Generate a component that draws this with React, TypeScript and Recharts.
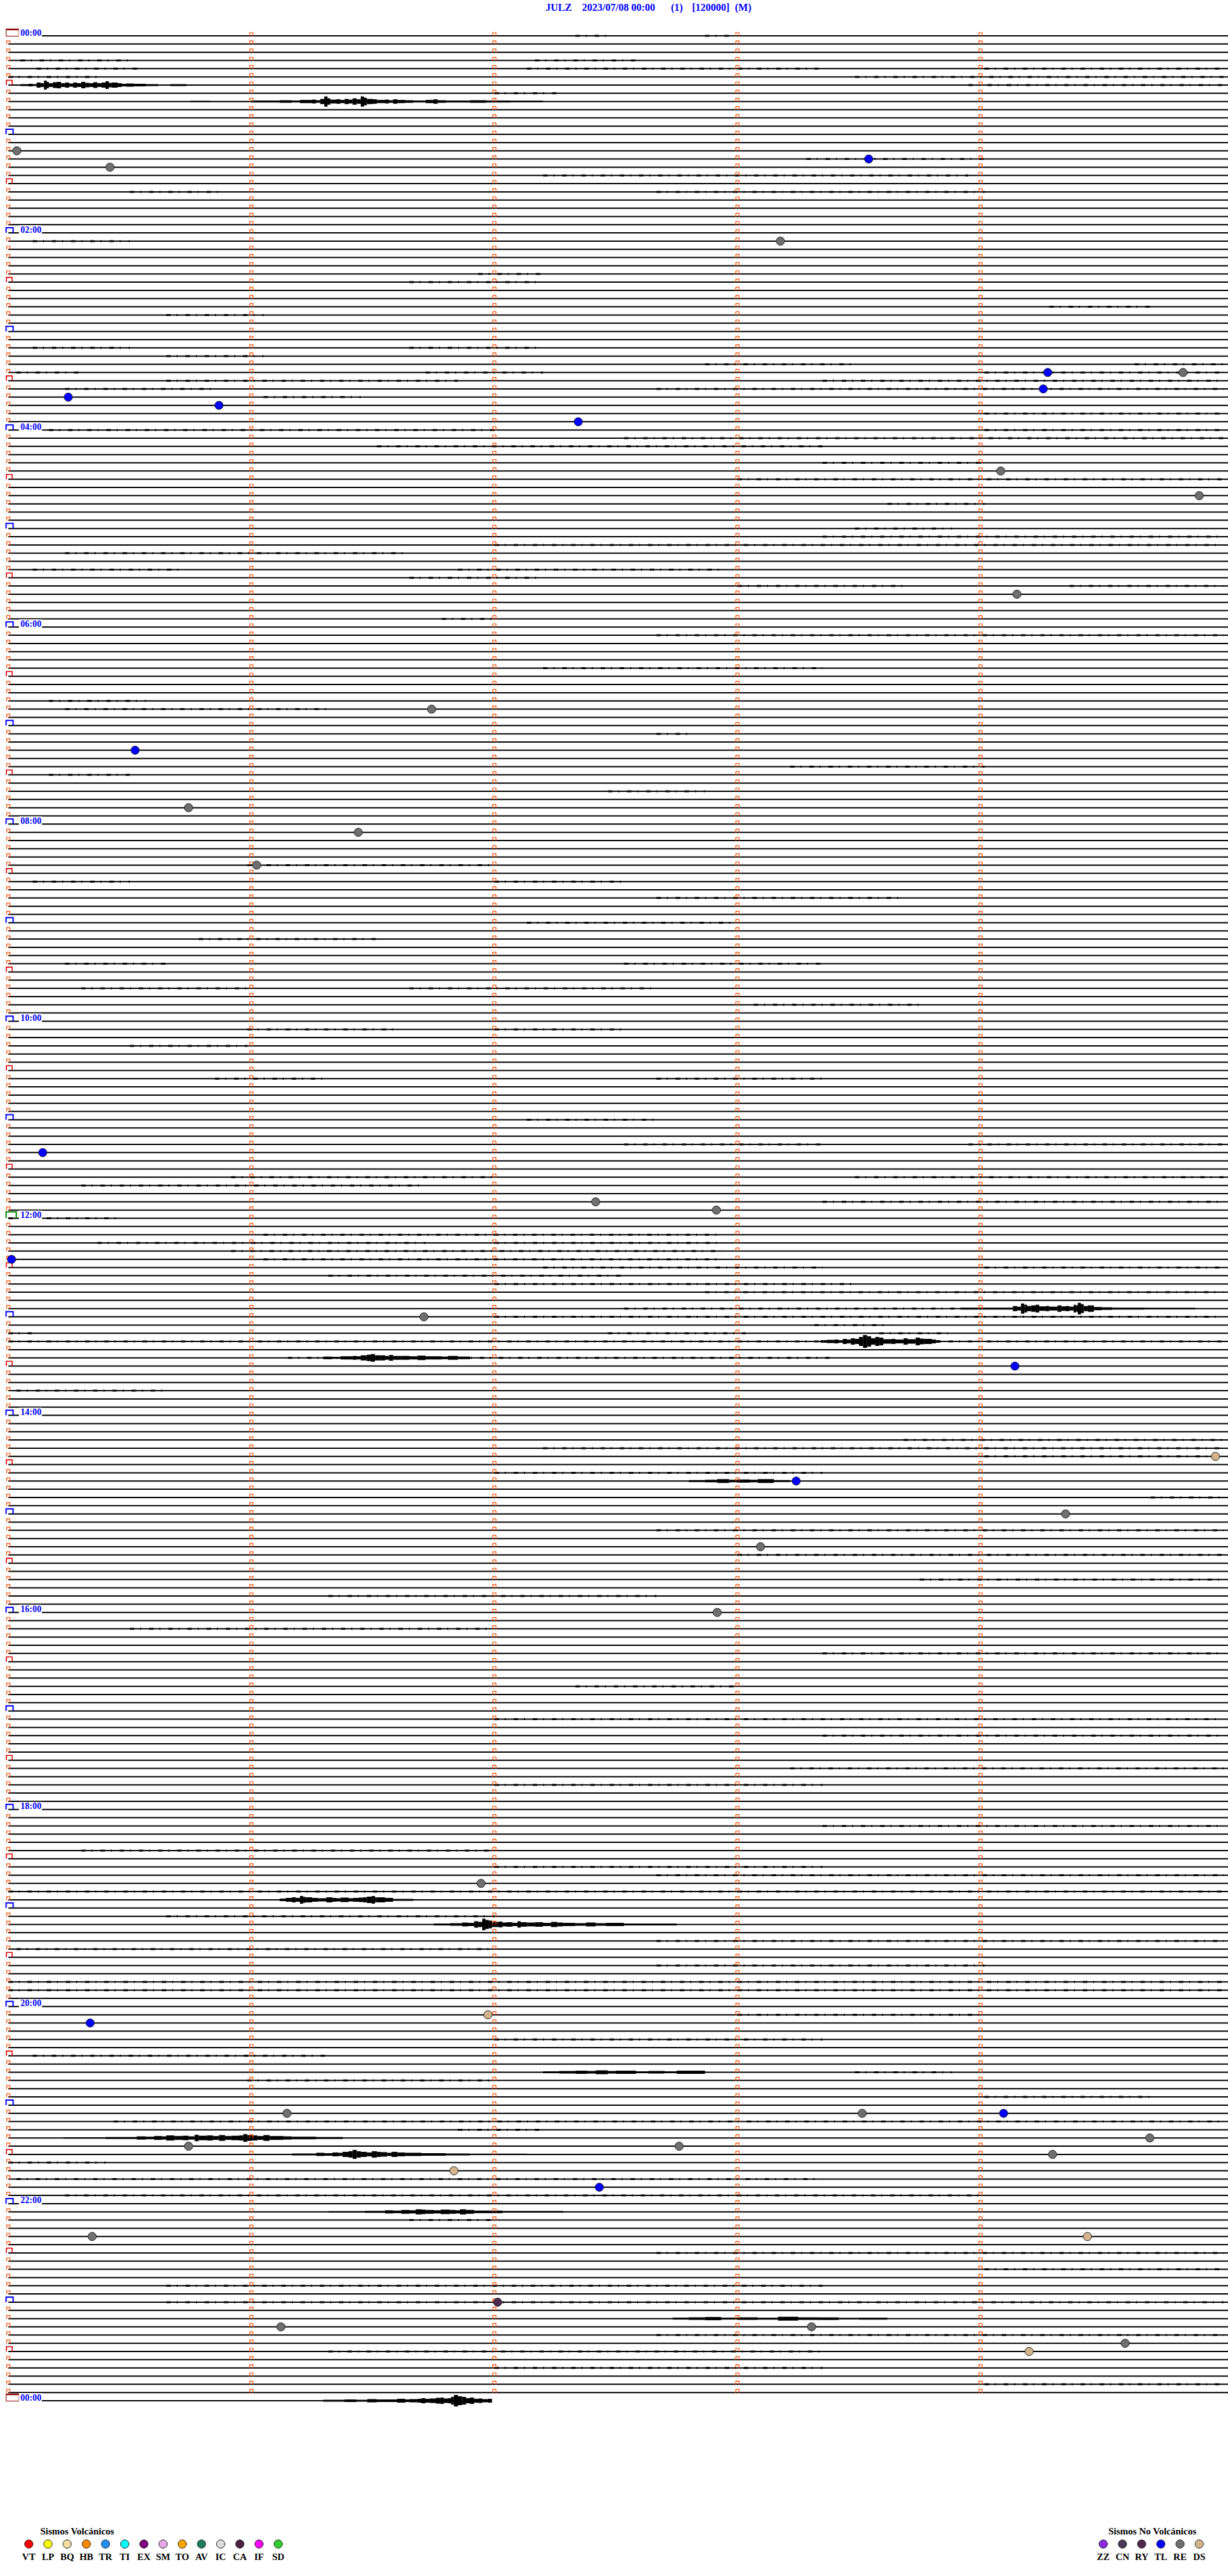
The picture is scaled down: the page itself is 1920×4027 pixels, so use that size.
import React from "react";
import {
  ScatterChart,
  Scatter,
  XAxis,
  YAxis,
  ReferenceLine,
  ReferenceArea,
} from "recharts";

// helicorder JULZ 2023/07/08 - one row = 5 minutes, 288 rows per day
const ROWS = 288;
const ROW_SECONDS = 301.1;
const minuteMarks = [0, 60, 120, 180, 240];
const hourLabelRows = [0, 24, 48, 72, 96, 120, 144, 168, 192, 216, 240, 264, 288];
const hourLabels = ["00:00", "02:00", "04:00", "06:00", "08:00", "10:00", "12:00", "14:00", "16:00", "18:00", "20:00", "22:00", "00:00"];
const lastRowEnd = 119.4;

// detected events: [row, second in row, code]
const events: [number, number, string][] = [
  [14, 2.1, "RE"], [16, 25.1, "RE"], [15, 212.4, "TL"], [25, 190.6, "RE"],
  [41, 290, "RE"], [41, 256.6, "TL"], [43, 255.5, "TL"], [44, 14.8, "TL"],
  [45, 52, "TL"], [47, 140.7, "TL"], [53, 245, "RE"], [56, 294, "RE"],
  [68, 249, "RE"], [82, 104.5, "RE"], [87, 31.3, "TL"], [94, 44.5, "RE"],
  [97, 86.4, "RE"], [101, 61.3, "RE"], [136, 8.5, "TL"], [142, 145, "RE"],
  [143, 174.8, "RE"], [149, 0.8, "TL"], [156, 102.6, "RE"], [162, 248.5, "TL"],
  [173, 298, "DS"], [176, 194.5, "TL"], [180, 261, "RE"], [184, 185.7, "RE"],
  [192, 175, "RE"], [225, 116.7, "RE"], [241, 118.4, "DS"], [242, 20.2, "TL"],
  [253, 68.8, "RE"], [253, 210.8, "RE"], [253, 245.7, "TL"], [256, 281.8, "RE"],
  [257, 44.5, "RE"], [257, 165.6, "RE"], [258, 257.8, "RE"], [260, 110, "DS"],
  [262, 145.9, "TL"], [268, 20.7, "RE"], [268, 266.4, "DS"], [276, 120.8, "CN"],
  [279, 67.3, "RE"], [279, 198.3, "RE"], [281, 275.7, "RE"], [282, 252, "DS"],
];

// low-level noise stretches: [row, from s, to s]
const noise: [number, number, number][] = [
  [0, 140, 148], [0, 172, 178], [3, 3, 30], [3, 130, 155], [4, 7, 32], [4, 128, 200],
  [4, 241, 300], [5, 0, 22], [5, 209, 300], [6, 237, 300], [7, 120, 136], [15, 197, 241],
  [17, 132, 237], [19, 30, 53], [19, 160, 241], [25, 6, 30], [29, 116, 132], [30, 99, 132],
  [33, 257, 282], [34, 39, 63], [38, 6, 30], [38, 99, 132], [39, 39, 63], [40, 172, 209],
  [40, 278, 300], [41, 2, 18], [41, 103, 132], [41, 241, 300], [42, 39, 111], [42, 201, 300],
  [43, 14, 51], [43, 160, 300], [44, 63, 87], [46, 241, 300], [48, 10, 120], [48, 241, 300],
  [49, 152, 300], [50, 91, 201], [52, 201, 241], [54, 180, 300], [57, 217, 241], [60, 209, 233],
  [61, 201, 300], [62, 120, 300], [63, 14, 99], [65, 6, 43], [65, 111, 176], [66, 99, 132],
  [67, 180, 221], [67, 262, 300], [71, 107, 120], [73, 160, 300], [77, 132, 201], [81, 10, 34],
  [82, 14, 79], [85, 160, 168], [89, 193, 241], [90, 10, 30], [92, 148, 172], [101, 59, 120],
  [103, 6, 30], [103, 120, 152], [105, 160, 221], [108, 128, 180], [110, 47, 91], [113, 14, 39],
  [113, 152, 201], [116, 18, 59], [116, 99, 160], [118, 184, 225], [121, 59, 95], [121, 120, 152],
  [123, 30, 59], [127, 51, 79], [127, 160, 201], [132, 128, 160], [135, 152, 201], [135, 237, 300],
  [139, 55, 120], [139, 209, 300], [140, 18, 103], [142, 201, 300], [144, 0, 27], [146, 63, 176],
  [147, 22, 103], [147, 120, 176], [148, 55, 176], [149, 63, 176], [150, 132, 201], [150, 241, 300],
  [151, 79, 152], [152, 120, 209], [153, 172, 300], [155, 152, 235], [156, 120, 300], [157, 199, 218],
  [158, 0, 6], [158, 148, 182], [158, 215, 232], [159, 0, 300], [161, 69, 203], [165, 2, 39],
  [171, 221, 300], [172, 132, 300], [173, 241, 300], [175, 120, 201], [178, 282, 300], [182, 160, 300],
  [185, 180, 300], [188, 225, 300], [190, 79, 160], [194, 30, 120], [197, 201, 300], [201, 140, 180],
  [205, 120, 300], [207, 201, 300], [211, 193, 300], [213, 120, 201], [218, 201, 300], [221, 18, 120],
  [223, 120, 201], [224, 160, 300], [226, 0, 300], [229, 39, 120], [232, 160, 300], [233, 2, 120],
  [235, 160, 241], [237, 0, 300], [238, 0, 300], [241, 180, 241], [244, 120, 201], [246, 6, 79],
  [248, 209, 233], [249, 59, 120], [251, 241, 282], [254, 26, 300], [255, 111, 132], [259, 0, 24],
  [261, 2, 201], [263, 14, 241], [266, 99, 120], [270, 160, 300], [272, 241, 300], [274, 39, 201],
  [276, 39, 300], [280, 160, 300], [282, 79, 201], [284, 120, 201], [286, 241, 300],
];

// larger signals: row + envelope [second, half amplitude]
const burstRows = [6, 8, 155, 159, 161, 227, 230, 256, 258, 265, 288, 248, 278, 176];
const burstEnvelopes: [number, number][][] = [
  [[0, 1], [3, 1.5], [5, 2], [6, 1.5], [7, 4], [8, 3], [8.8, 7], [9.5, 5], [10, 3], [11, 4.5], [12, 5], [13, 3], [14, 4], [15, 2.5], [16, 4], [17, 3], [18, 5], [19, 3.5], [20, 3], [21, 4.5], [22, 3], [23, 4], [24, 6], [24.8, 3.5], [25.5, 4], [27, 3], [28, 2], [29, 2.5], [31, 2], [34, 1.5], [37, 1], [40, 1.5], [44, 1], [51, 0]],
  [[45, 1], [50, 0.5], [60, 1.5], [67, 2], [70, 1.5], [72, 2.5], [75, 3], [76, 2], [77, 4], [78, 8], [78.8, 5], [79.5, 3], [81, 3.5], [82, 2.5], [83, 4], [84, 3], [85, 5], [86, 3.5], [87, 8], [87.8, 6], [88.5, 4], [90, 3.5], [91, 2.5], [93, 3], [94, 2], [95, 3.5], [96, 2.5], [98, 2], [100, 1.5], [103, 2.5], [105, 3.5], [106, 2], [108, 1.5], [114, 2], [118, 1.5], [124, 1.2], [132, 0]],
  [[235, 1.5], [248, 4], [249, 3], [250, 8], [250.8, 6], [251.5, 4], [252.5, 5], [253.6, 6], [254.5, 3.5], [256, 4], [257, 3], [259, 5], [260, 3.5], [261, 4], [262, 3], [263, 6], [263.6, 5], [264, 9], [264.8, 7], [265.5, 4], [266.5, 5], [268, 2.5], [270, 2], [272.5, 1.5], [280.5, 1.2], [293, 0]],
  [[200.5, 2], [202, 2.5], [204, 3], [205, 2], [206, 4], [207, 3], [208, 5], [209, 4], [210, 7], [211, 10], [212, 8], [213, 5], [214, 7], [215, 6], [216, 3.5], [218, 4], [219, 3], [221, 5], [222, 3.5], [224, 6], [225, 4.5], [226, 4], [228, 3], [229, 2], [230, 0]],
  [[77.7, 2], [80, 1.5], [82, 2.5], [85, 3], [86, 2.5], [87, 4], [88.5, 5], [89.5, 6], [90.5, 4], [92, 4], [93, 3], [94, 4.5], [95, 3], [97, 3], [99, 2.5], [101, 3.5], [103, 2.5], [105, 2.5], [107, 2], [108.5, 3], [111, 2], [114, 0]],
  [[67, 2], [68.5, 3], [70, 4], [71, 3], [72, 6], [72.8, 4.5], [73.5, 4], [75, 3], [76.5, 2.5], [78.5, 4], [80, 3], [81, 2.5], [82, 3.5], [84, 2.5], [85, 3], [86.5, 3.5], [87.6, 4], [88.5, 5], [89.7, 6], [90.5, 4], [91, 4], [93, 3], [95, 1.5], [100, 1], [104, 0]],
  [[105, 1.5], [109, 2], [112, 3], [113.5, 2.5], [115, 5], [116, 4], [117, 9], [117.8, 7], [118.6, 6], [119.4, 4], [120, 4], [121, 4.5], [122, 3], [123, 3.5], [124.5, 2.5], [125.7, 5], [126.5, 3.5], [128, 3], [130, 3.5], [132, 2.5], [134, 4], [135.5, 3], [137, 2.5], [140, 2], [142.6, 3], [145, 2], [147.5, 2.5], [152, 1.5], [156, 1.5], [165, 0]],
  [[13.6, 1], [24, 1.5], [31.7, 2.5], [34, 2], [36, 3], [38, 2.5], [39, 4], [41, 3], [43, 3.5], [44.5, 2.5], [46, 5], [47, 3.5], [49, 4], [50.5, 3], [52, 4.5], [53.5, 3], [55, 3.5], [57, 4], [58, 6], [59, 4.5], [60, 4], [61.5, 3], [63, 4.5], [64.5, 3], [66, 3], [68, 2.5], [70, 2], [76, 1.5], [82.6, 0]],
  [[64, 1], [70, 1.5], [76, 2.5], [78, 2], [80, 3], [81.5, 2.5], [82.5, 4], [84, 5], [85, 7], [86, 5], [87, 4], [88.5, 3], [89.7, 5], [91, 4], [92, 3.5], [93.5, 2.5], [94.6, 4], [96, 3], [98, 2.5], [102, 2], [108, 1.5], [114, 1.2], [128, 0]],
  [[79, 1], [88, 1.5], [93, 2.5], [95, 2], [97, 3], [99, 2.5], [100.6, 4], [102, 3.5], [103, 3], [105, 2.5], [106.7, 3.5], [109, 3], [110.5, 2.5], [111.5, 4], [113, 3], [115, 2], [122, 1.2], [137, 0]],
  [[38, 1], [40, 0], [77.7, 1.5], [83, 2], [86, 1.5], [88.6, 2.5], [91, 2], [93, 2], [96, 3], [98, 2], [99, 2.5], [101, 3], [102, 4], [103, 3], [104, 3.5], [105.5, 4.5], [106.7, 5], [107.5, 3.5], [108.5, 4], [109.3, 6], [110, 9], [111, 7], [112, 6], [113, 4], [114, 5], [115, 3], [116, 3.5], [117, 2.5], [118.4, 3], [119.4, 0]],
  [[132, 1.5], [136, 2], [140, 2.5], [143, 2], [145, 3], [148, 2], [150, 2.5], [155, 1.5], [158, 2], [162, 1.5], [165, 2.5], [172, 0]],
  [[164, 1.5], [168, 2], [172, 2.5], [176, 1.5], [180, 2], [185, 1.5], [190, 3], [195, 2], [200, 2], [205, 1.2], [210, 1.5], [217, 0]],
  [[168, 1.5], [172, 2], [175, 3], [178, 2], [180, 2.5], [183, 2], [185, 3], [189, 1.5], [193, 0]],
];

const eventColors: Record<string, string> = {
  RE: "#6f6f6f",
  TL: "#0000ff",
  DS: "#d2b48c",
  CN: "#4a2a48",
};

const volcanicCodes = ["VT", "LP", "BQ", "HB", "TR", "TI", "EX", "SM", "TO", "AV", "IC", "CA", "IF", "SD"];
const volcanicColors = ["#ff0000", "#ffff00", "#f0dca0", "#ff8800", "#1e90ff", "#00ffff", "#800080", "#e8a8e8", "#ffa500", "#1e7f5c", "#dcdcdc", "#4b2342", "#ff00ff", "#32cd32"];
const nonVolcanicCodes = ["ZZ", "CN", "RY", "TL", "RE", "DS"];
const nonVolcanicColors = ["#8a2be2", "#4a3a5a", "#502850", "#0000ff", "#6f6f6f", "#d2b48c"];

// layout
const W = 1920;
const H = 3800;
const TOP = 56;
const BOTTOM = 47;
const ROW_PX = (H - TOP - BOTTOM) / ROWS;
const SERIF = "'Liberation Serif', 'Times New Roman', serif";

const rowIndex = Array.from({ length: ROWS + 1 }, (_, i) => i);

const markerData = rowIndex.flatMap((r) =>
  minuteMarks
    .filter((m) => r < ROWS || m === 0)
    .map((m) => {
      let kind = "tick";
      if (m === 0) {
        if (r === 0 || r === ROWS) kind = "day";
        else if (r === 144) kind = "noon";
        else if (r % 12 === 0) kind = "hour";
        else if (r % 6 === 0) kind = "half";
      }
      return { x: m, y: r, kind };
    })
);

const labelData = hourLabelRows.map((r, i) => ({ x: 0, y: r, text: hourLabels[i] }));
const eventData = events.map(([r, s, code]) => ({ x: s, y: r, code }));

const Marker = (props: any) => {
  const { cx, cy, payload } = props;
  if (cx == null || cy == null) return <g />;
  const k = payload.kind;
  if (k === "tick")
    return <path d={`M${cx - 2.5},${cy + 0.5}V${cy - 5}H${cx + 2.5}V${cy + 0.5}`} stroke="#ff4a00" strokeWidth={1.2} fill="none" />;
  if (k === "half")
    return <path d={`M${cx - 3},${cy}V${cy - 7.5}H${cx + 6}V${cy}`} stroke="#e00000" strokeWidth={1.6} fill="none" />;
  if (k === "hour")
    return <path d={`M${cx - 3.5},${cy}V${cy - 8}H${cx + 7.5}V${cy}`} stroke="#0000ff" strokeWidth={2} fill="none" />;
  if (k === "noon")
    return <path d={`M${cx - 3.5},${cy}V${cy - 10}H${cx + 12.5}V${cy}`} stroke="#008000" strokeWidth={2} fill="none" />;
  return (
    <g>
      <rect x={cx - 3.5} y={cy - 10} width={20} height={10.5} fill="#fff" stroke="#8b0000" strokeWidth={1} />
      <line x1={cx - 3.5} x2={cx + 16.5} y1={cy - 10} y2={cy - 10} stroke="#8b0000" strokeWidth={2.5} />
    </g>
  );
};

const HourLabel = (props: any) => {
  const { cx, cy, payload } = props;
  if (cx == null || cy == null) return <g />;
  return (
    <g>
      <rect x={cx + 16.5} y={cy - 12} width={36} height={14} fill="#fff" />
      <text x={cx + 19} y={cy - 0.5} fontFamily={SERIF} fontWeight="bold" fontSize={14} fill="#0000ff">
        {payload.text}
      </text>
    </g>
  );
};

const EventDot = (props: any) => {
  const { cx, cy, payload } = props;
  if (cx == null || cy == null) return <g />;
  return <circle cx={cx} cy={cy} r={6.5} fill={eventColors[payload.code]} stroke="#222" strokeWidth={1} />;
};

const titleParts: [number, string][] = [
  [853, "JULZ"],
  [910, "2023/07/08 00:00"],
  [1049, "(1)"],
  [1082, "[120000]"],
  [1149, "(M)"],
];

const App: React.FC = () => (
  <div style={{ position: "absolute", left: 0, top: 0, width: W, height: 4027, background: "#fff" }}>
    {titleParts.map(([x, t]) => (
      <span
        key={t}
        style={{
          position: "absolute",
          left: x,
          top: 4,
          fontFamily: SERIF,
          fontWeight: "bold",
          fontSize: 16,
          lineHeight: "16px",
          color: "#0000ff",
          whiteSpace: "pre",
        }}
      >
        {t}
      </span>
    ))}
    <div style={{ position: "absolute", left: 0, top: 0 }}>
      <ScatterChart width={W} height={H} margin={{ top: TOP, right: 0, left: 13, bottom: BOTTOM }}>
        <XAxis type="number" dataKey="x" domain={[0, ROW_SECONDS]} hide />
        <YAxis type="number" dataKey="y" domain={[0, ROWS]} reversed hide />
        {rowIndex.map((r) =>
          r === ROWS ? (
            <ReferenceLine key={`l${r}`} segment={[{ x: 0, y: r }, { x: lastRowEnd, y: r }]} stroke="#000" strokeWidth={2} />
          ) : (
            <ReferenceLine key={`l${r}`} y={r} stroke="#000" strokeWidth={2} />
          )
        )}
        {noise.map(([r, a, b], i) => (
          <ReferenceLine
            key={`n${i}`}
            segment={[{ x: a, y: r }, { x: b, y: r }]}
            stroke="#000"
            strokeWidth={3}
            strokeDasharray="7 9 2 12"
          />
        ))}
        {burstEnvelopes.flatMap((env, bi) =>
          env.slice(0, -1).map(([s, amp], j) => (
            <ReferenceArea
              key={`b${bi}-${j}`}
              x1={s}
              x2={env[j + 1][0]}
              y1={burstRows[bi] - amp / ROW_PX}
              y2={burstRows[bi] + amp / ROW_PX}
              fill="#000"
              fillOpacity={1}
              stroke="none"
              ifOverflow="visible"
            />
          ))
        )}
        <Scatter data={markerData} shape={Marker} isAnimationActive={false} />
        <Scatter data={labelData} shape={HourLabel} isAnimationActive={false} />
        <Scatter data={eventData} shape={EventDot} isAnimationActive={false} />
      </ScatterChart>
    </div>
    <svg style={{ position: "absolute", left: 0, top: 3930 }} width={W} height={97}>
      <text x={63} y={32} fontFamily={SERIF} fontWeight="bold" fontSize={15} fill="#000">
        Sismos Volcánicos
      </text>
      {volcanicCodes.map((c, i) => (
        <g key={c}>
          <circle cx={45 + 30 * i} cy={47} r={6.5} fill={volcanicColors[i]} stroke="#222" strokeWidth={1} />
          <text x={45 + 30 * i} y={72} textAnchor="middle" fontFamily={SERIF} fontWeight="bold" fontSize={15} fill="#000">
            {c}
          </text>
        </g>
      ))}
      <text x={1733} y={32} fontFamily={SERIF} fontWeight="bold" fontSize={15} fill="#000">
        Sismos No Volcánicos
      </text>
      {nonVolcanicCodes.map((c, i) => (
        <g key={c}>
          <circle cx={1725 + 30 * i} cy={47} r={6.5} fill={nonVolcanicColors[i]} stroke="#222" strokeWidth={1} />
          <text x={1725 + 30 * i} y={72} textAnchor="middle" fontFamily={SERIF} fontWeight="bold" fontSize={15} fill="#000">
            {c}
          </text>
        </g>
      ))}
    </svg>
  </div>
);

export default App;
